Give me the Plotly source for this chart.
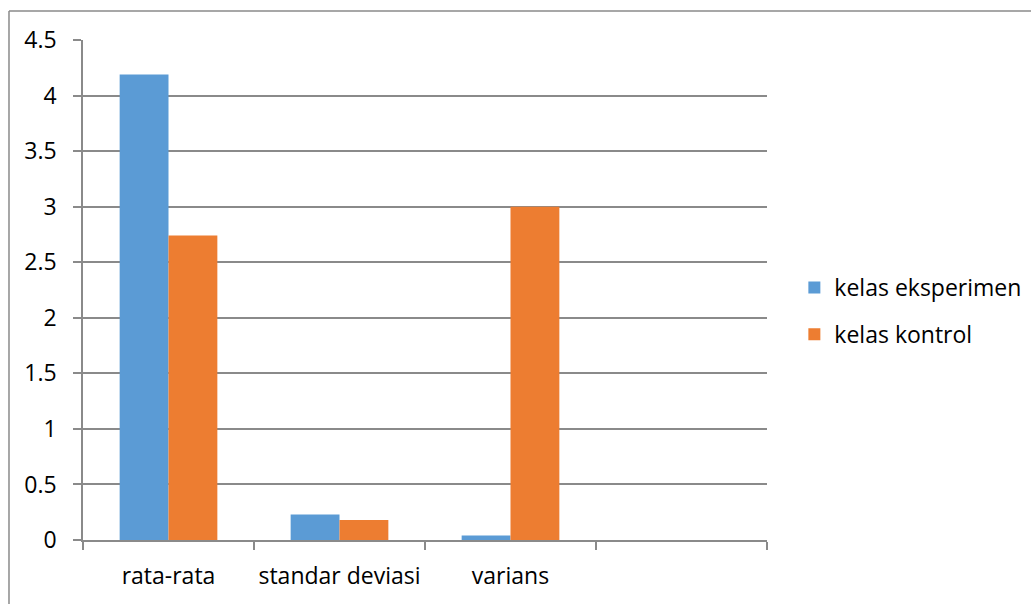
import plotly.graph_objects as go

categories = ["rata-rata", "standar deviasi", "varians", " "]
kelas_eksperimen = [4.19, 0.23, 0.04, None]
kelas_kontrol = [2.74, 0.18, 3.0, None]
y_ticks = [0, 0.5, 1, 1.5, 2, 2.5, 3, 3.5, 4, 4.5]
y_tick_labels = ["0", "0.5", "1", "1.5", "2", "2.5", "3", "3.5", "4", "4.5"]

FONT = "Open Sans"
FSIZE = 23
GRID = "#8a8a8a"

fig = go.Figure()
fig.add_trace(go.Bar(name="kelas eksperimen", x=categories, y=kelas_eksperimen,
                     marker=dict(color="#5B9BD5", line=dict(width=0)),
                     legendgroup="a"))
fig.add_trace(go.Bar(name="kelas kontrol", x=categories, y=kelas_kontrol,
                     marker=dict(color="#ED7D31", line=dict(width=0)),
                     legendgroup="b"))

fig.update_layout(
    width=1031, height=604,
    margin=dict(l=83, r=264, t=40, b=64, autoexpand=False),
    paper_bgcolor="white", plot_bgcolor="white",
    font=dict(family=FONT, size=FSIZE, color="#000000"),
    barmode="group", bargap=0.4286, bargroupgap=0,
    legend=dict(x=1.04, y=0.458, xanchor="left", yanchor="middle",
                font=dict(family=FONT, size=FSIZE, color="#000000"),
                tracegroupgap=14, itemsizing="constant"),
    xaxis=dict(type="category", showgrid=False, showline=True,
               linecolor=GRID, linewidth=1.5, ticks="outside",
               tickson="boundaries", ticklen=8, tickcolor=GRID, tickwidth=1.5,
               ticklabelstandoff=15, tickangle=0, automargin=False,
               tickfont=dict(family=FONT, size=FSIZE)),
    yaxis=dict(range=[0, 4.5], tickvals=y_ticks, ticktext=y_tick_labels,
               showgrid=True, gridcolor=GRID, gridwidth=1.5,
               showline=True, linecolor=GRID, linewidth=1.5,
               ticks="outside", ticklen=8, tickcolor=GRID, tickwidth=1.5,
               ticklabelstandoff=12, automargin=False,
               zeroline=False, tickfont=dict(family=FONT, size=FSIZE)),
    shapes=[
        dict(type="line", xref="paper", yref="paper", x0=-0.1082, x1=1.3860,
             y0=1.058, y1=1.058, line=dict(color=GRID, width=1.5)),
        dict(type="line", xref="paper", yref="paper", x0=-0.1082, x1=-0.1082,
             y0=1.058, y1=-0.2, line=dict(color=GRID, width=1.5)),
    ],
)

fig.write_html("out.html")
